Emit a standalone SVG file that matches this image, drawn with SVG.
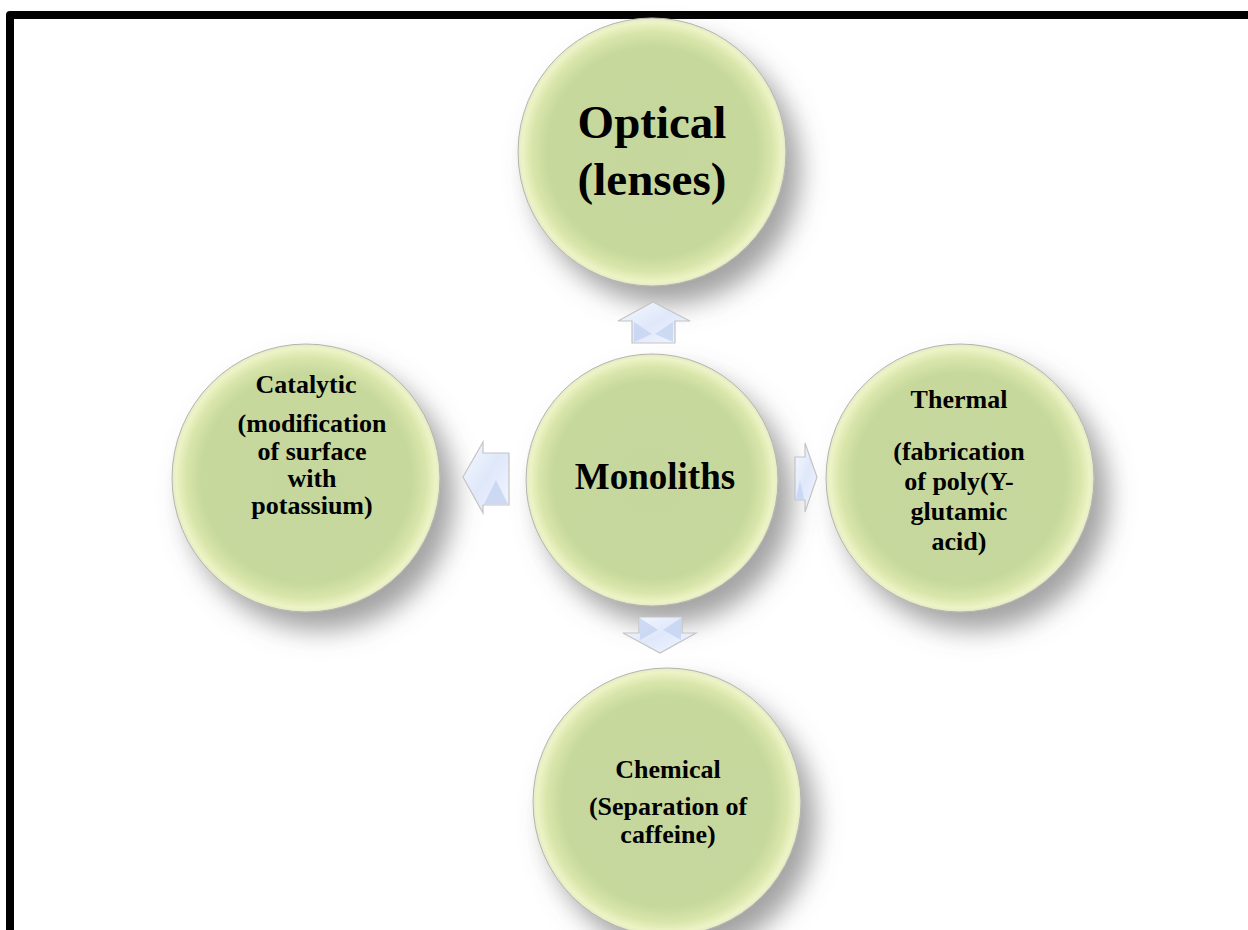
<svg xmlns="http://www.w3.org/2000/svg" width="1248" height="930" viewBox="0 0 1248 930">
<defs>
<radialGradient id="ballFill" cx="50%" cy="50%" r="50%">
<stop offset="0" stop-color="#c5d79d"/>
<stop offset="0.78" stop-color="#c6d89c"/>
<stop offset="0.9" stop-color="#d9e6ab"/>
<stop offset="0.97" stop-color="#eef3c6"/>
<stop offset="1" stop-color="#e4eac8"/>
</radialGradient>
<linearGradient id="arrowFill" x1="0" y1="0" x2="1" y2="1">
<stop offset="0" stop-color="#f6f9ff"/>
<stop offset="0.5" stop-color="#dfe8fa"/>
<stop offset="1" stop-color="#f2f6ff"/>
</linearGradient>
<filter id="shadow" x="-30%" y="-30%" width="170%" height="170%">
<feGaussianBlur in="SourceAlpha" stdDeviation="13"/>
<feOffset dx="14" dy="18" result="b"/>
<feFlood flood-color="#6a6a6a" flood-opacity="0.62"/>
<feComposite in2="b" operator="in"/>
<feMerge><feMergeNode/><feMergeNode in="SourceGraphic"/></feMerge>
</filter>
</defs>
<style>
.ball{fill:url(#ballFill);stroke:#b4b4ac;stroke-width:1;filter:url(#shadow)}
.arrow{fill:url(#arrowFill);stroke:#c4c4c4;stroke-width:1.2}
.facet{fill:#c3d1f0;opacity:0.75}
text{font-family:"Liberation Serif","Times New Roman",serif;font-weight:bold;fill:#000;text-anchor:middle}
.big{font-size:47px}
.mid{font-size:37px}
.sm{font-size:26px}
</style>
<rect width="1248" height="930" fill="#ffffff"/>
<path d="M6,930 V15 Q6,11 10,11 H1248 V19 H14 V930 Z" fill="#000"/>

<g id="n-optical">
<circle class="ball" cx="652" cy="152" r="134"/>
<text class="big" x="652" y="138">Optical</text>
<text class="big" x="652" y="195">(lenses)</text>
</g>

<g id="n-catalytic">
<circle class="ball" cx="306" cy="478" r="134"/>
<text class="sm" x="306" y="393">Catalytic</text>
<text class="sm" x="312" y="432">(modification</text>
<text class="sm" x="312" y="460">of surface</text>
<text class="sm" x="312" y="487">with</text>
<text class="sm" x="312" y="514">potassium)</text>
</g>

<g id="n-thermal">
<circle class="ball" cx="960" cy="478" r="134"/>
<text class="sm" x="959" y="408">Thermal</text>
<text class="sm" x="959" y="460">(fabrication</text>
<text class="sm" x="959" y="490">of poly(Y-</text>
<text class="sm" x="959" y="520">glutamic</text>
<text class="sm" x="959" y="550">acid)</text>
</g>

<g id="n-chemical">
<circle class="ball" cx="667" cy="802" r="134"/>
<text class="sm" x="668" y="778">Chemical</text>
<text class="sm" x="668" y="815">(Separation of</text>
<text class="sm" x="668" y="843">caffeine)</text>
</g>

<g id="n-monoliths">
<circle class="ball" cx="652" cy="480" r="126"/>
<text class="mid" x="655" y="489">Monoliths</text>
</g>

<g id="connectors">
<polygon class="arrow" points="653,302 690,321 675,321 675,343 632,343 632,321 618,321"/>
<polygon class="facet" points="634,322 652,334 634,342"/>
<polygon class="facet" points="673,322 655,334 673,342"/>

<polygon class="arrow" points="463,477 483,442 483,453 509,453 509,505 483,505 483,513"/>
<polygon class="facet" points="484,504 496,480 508,504"/>

<polygon class="arrow" points="795,457 805,457 805,443 817,477 805,512 805,500 795,500"/>
<polygon class="facet" points="796,499 800,480 804,499"/>

<polygon class="arrow" points="639,617 682,617 682,633 696,633 660,653 623,633 639,633"/>
<polygon class="facet" points="640,618 658,630 640,640"/>
<polygon class="facet" points="681,618 663,630 681,640"/>
</g>
</svg>
